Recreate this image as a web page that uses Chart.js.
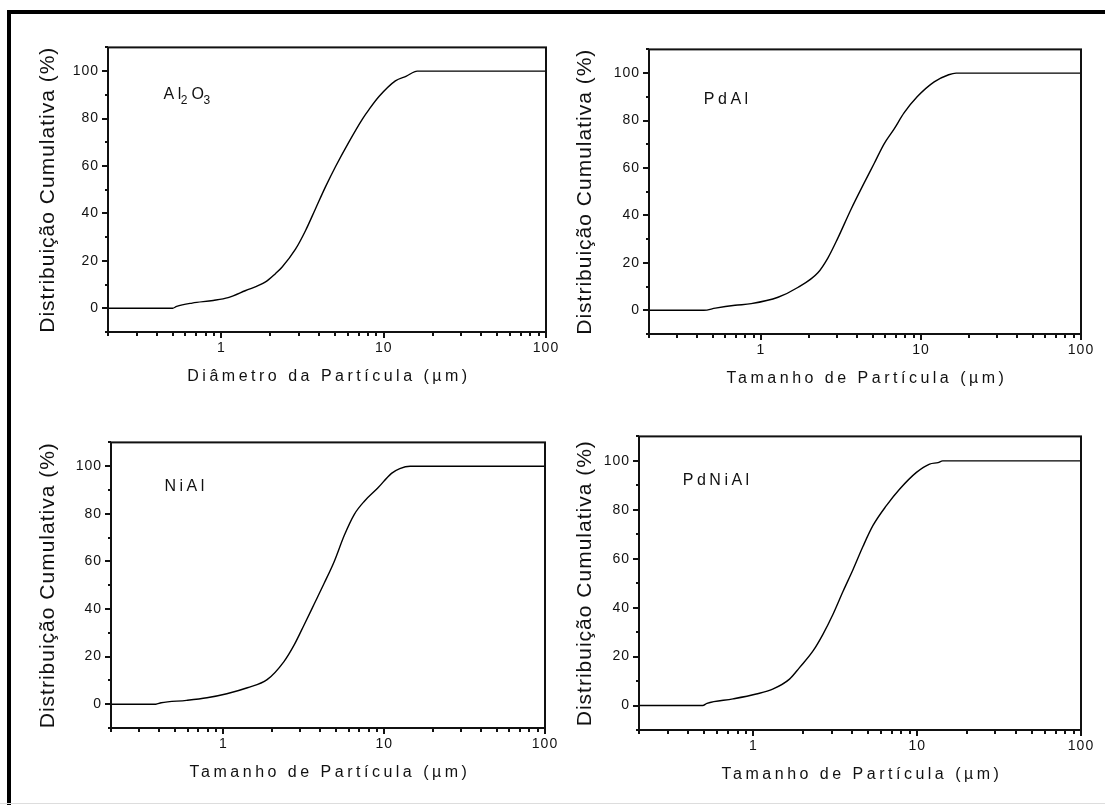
<!DOCTYPE html>
<html>
<head>
<meta charset="utf-8">
<script src="https://cdn.jsdelivr.net/npm/chart.js@4/dist/chart.umd.min.js"></script>
<style>
  html, body { margin: 0; padding: 0; background: #fff; }
  #page { position: relative; width: 1105px; height: 805px; overflow: hidden; background: #fff; }
  #frame { position: absolute; left: 7px; top: 10px; width: 1120px; height: 820px;
           border-top: 4px solid #000; border-left: 4px solid #000; }
  #foot { position: absolute; left: 0; top: 803px; width: 1105px; height: 1px; background: #ddd; }
  canvas { position: absolute; }
</style>
</head>
<body>
<div id="page"><div id="frame"></div><div id="foot"></div></div>
<script>
// Cumulative particle size distributions: size in µm, cumulative fraction in %
const al2o3Size = [0.2, 0.5, 0.53, 0.66, 0.89, 1.1, 1.4, 1.87, 2.15, 2.36, 2.86, 3.3, 3.8, 4.39, 5.06, 6.11, 7.39, 8.13, 9.38, 11.8, 13.8, 16.1, 100];
const al2o3Cum  = [0, 0, 0.8, 2.2, 3.3, 4.5, 7.4, 11.1, 14.6, 17.3, 24.9, 32.8, 42, 51.4, 59.9, 70.2, 79.8, 83.9, 89.4, 95.9, 97.9, 100, 100];

const pdalSize = [0.2, 0.44, 0.52, 0.69, 0.87, 1.28, 1.7, 2.27, 2.62, 3.02, 3.66, 4.42, 5.1, 5.89, 6.79, 7.84, 9.5, 12.1, 14.9, 16.6, 100];
const pdalCum  = [0, 0, 0.9, 2.1, 2.8, 5.5, 9.6, 15.8, 22, 30.3, 42.6, 53.7, 61.9, 70.2, 76.4, 83.2, 90.1, 96.3, 99.3, 100, 100];

const nialSize = [0.2, 0.38, 0.41, 0.59, 0.79, 1.05, 1.41, 1.87, 2.38, 2.75, 3.18, 3.67, 4.24, 4.89, 5.65, 6.52, 7.53, 9.12, 11.1, 12.5, 14.5, 100];
const nialCum  = [0, 0, 0.6, 1.6, 2.7, 4.4, 6.9, 10.3, 17.9, 24.8, 33.4, 42.1, 50.9, 60, 71, 79.8, 85.3, 90.8, 97, 99, 100, 100];

const pdnialSize = [0.2, 0.49, 0.52, 0.75, 1.04, 1.31, 1.66, 1.91, 2.31, 2.65, 3.05, 3.52, 4.05, 4.66, 5.37, 6.48, 7.82, 9.89, 11.9, 13.4, 14.3, 100];
const pdnialCum  = [0, 0, 0.9, 2.7, 4.7, 6.7, 10.8, 15.5, 22.3, 29, 37.1, 46.6, 55.5, 65, 73.6, 81.7, 88.5, 95.3, 98.7, 99.3, 100, 100];

// Axis ticks
const xMajorTicks = [1, 10, 100];
const xMinorTicks = [0.2, 0.3, 0.4, 0.5, 0.6, 0.7, 0.8, 0.9, 2, 3, 4, 5, 6, 7, 8, 9, 20, 30, 40, 50, 60, 70, 80, 90];
const yMajorTicks = [0, 20, 40, 60, 80, 100];
const yMinorTicks = [-10, 10, 30, 50, 70, 90, 110];

// Axis titles
const yTitle = 'Distribuição Cumulativa (%)';
const xTitleDiametro = 'Diâmetro da Partícula (µm)';
const xTitleTamanho = 'Tamanho de Partícula (µm)';

const FONT = '"Liberation Sans", Arial, sans-serif';
const INK = '#111';

// Panel layout: plot-area rectangle in page pixels, title offsets, sample label anchor (data units)
const panels = [
  { sizes: al2o3Size, cum: al2o3Cum, name: [['Al', false], ['2', true], ['O', false], ['3', true]],
    xTitle: xTitleDiametro, plot: { l: 108, t: 42, r: 546, b: 332 }, yTitleOff: 60, labelAt: [0.44, 90] },
  { sizes: pdalSize, cum: pdalCum, name: [['PdAl', false]],
    xTitle: xTitleTamanho, plot: { l: 649, t: 44, r: 1081, b: 334 }, yTitleOff: 64, labelAt: [0.44, 88.7] },
  { sizes: nialSize, cum: nialCum, name: [['NiAl', false]],
    xTitle: xTitleTamanho, plot: { l: 111, t: 437, r: 545, b: 728 }, yTitleOff: 63, labelAt: [0.43, 91.3] },
  { sizes: pdnialSize, cum: pdnialCum, name: [['PdNiAl', false]],
    xTitle: xTitleTamanho, plot: { l: 639, t: 431, r: 1081, b: 730 }, yTitleOff: 54, labelAt: [0.37, 92] }
];

const page = document.getElementById('page');

function makePanel(p) {
  const padT = 12, padR = 22, yW = 100, xH = 62;
  const left = p.plot.l - yW, top = p.plot.t - padT;
  const width = p.plot.r + padR - left, height = p.plot.b + xH - top;
  const cv = document.createElement('canvas');
  cv.width = width; cv.height = height;
  cv.style.left = left + 'px'; cv.style.top = top + 'px';
  cv.style.width = width + 'px'; cv.style.height = height + 'px';
  page.appendChild(cv);

  // Box, tick marks, axis titles and sample label
  const decor = {
    id: 'panelDecor',
    beforeDraw(chart) { chart.ctx.letterSpacing = '1px'; },
    afterDraw(chart) {
      const ctx = chart.ctx, a = chart.chartArea;
      const xs = chart.scales.x, ys = chart.scales.y;
      ctx.save();
      ctx.letterSpacing = '0px';
      ctx.strokeStyle = INK;
      ctx.lineWidth = 2;
      ctx.strokeRect(a.left, a.top, a.right - a.left, a.bottom - a.top);

      ctx.beginPath();
      const xTick = (vals, len) => vals.forEach(v => {
        const px = Math.round(xs.getPixelForValue(v));
        ctx.moveTo(px, a.bottom); ctx.lineTo(px, a.bottom + len);
      });
      const yTick = (vals, len) => vals.forEach(v => {
        const py = Math.round(ys.getPixelForValue(v));
        ctx.moveTo(a.left, py); ctx.lineTo(a.left - len, py);
      });
      xTick(xMajorTicks, 6); xTick(xMinorTicks, 4);
      yTick(yMajorTicks, 6); yTick(yMinorTicks, 3);
      ctx.stroke();

      ctx.fillStyle = INK;
      // y title
      ctx.save();
      ctx.translate(a.left - p.yTitleOff, (a.top + a.bottom) / 2);
      ctx.rotate(-Math.PI / 2);
      ctx.font = '21px ' + FONT;
      ctx.letterSpacing = '1px';
      ctx.textAlign = 'center';
      ctx.textBaseline = 'middle';
      ctx.fillText(yTitle, 0, 0);
      ctx.restore();

      // x title
      ctx.font = '16px ' + FONT;
      ctx.letterSpacing = '3.5px';
      ctx.textAlign = 'center';
      ctx.textBaseline = 'middle';
      ctx.fillText(p.xTitle, (a.left + a.right) / 2 + 2, a.bottom + 45);

      // sample label
      let lx = xs.getPixelForValue(p.labelAt[0]);
      const ly = ys.getPixelForValue(p.labelAt[1]);
      ctx.textAlign = 'left';
      ctx.textBaseline = 'middle';
      p.name.forEach(([txt, sub]) => {
        ctx.font = (sub ? '12px ' : '16px ') + FONT;
        ctx.letterSpacing = sub ? '1px' : '3.5px';
        ctx.fillText(txt, sub ? lx - 4 : lx, sub ? ly + 6 : ly);
        lx += ctx.measureText(txt).width + (sub ? -1 : 0);
      });
      ctx.restore();
      ctx.letterSpacing = '0px';
    }
  };

  const tickFont = { family: FONT, size: 14 };
  new Chart(cv, {
    type: 'line',
    data: {
      datasets: [{
        data: p.sizes.map((x, i) => ({ x, y: p.cum[i] })),
        borderColor: '#000',
        borderWidth: 1.4,
        pointRadius: 0,
        fill: false,
        cubicInterpolationMode: 'monotone'
      }]
    },
    options: {
      responsive: false,
      animation: false,
      devicePixelRatio: 1,
      layout: { padding: { top: padT, right: padR, left: 0, bottom: 0 } },
      plugins: { legend: { display: false }, tooltip: { enabled: false } },
      scales: {
        x: {
          type: 'logarithmic', min: 0.2, max: 100,
          afterFit(s) { s.height = xH; },
          afterBuildTicks(s) { s.ticks = xMajorTicks.map(v => ({ value: v })); },
          grid: { display: false, drawTicks: false },
          border: { display: false },
          ticks: { autoSkip: false, maxRotation: 0, minRotation: 0, padding: 8, color: INK, font: tickFont,
                   callback: v => String(v) }
        },
        y: {
          type: 'linear', min: -10, max: 110,
          afterFit(s) { s.width = yW; },
          afterBuildTicks(s) { s.ticks = yMajorTicks.map(v => ({ value: v })); },
          grid: { display: false, drawTicks: false },
          border: { display: false },
          ticks: { autoSkip: false, padding: 9, color: INK, font: tickFont, callback: v => String(v) }
        }
      }
    },
    plugins: [decor]
  });
}

panels.forEach(makePanel);
</script>
</body>
</html>
